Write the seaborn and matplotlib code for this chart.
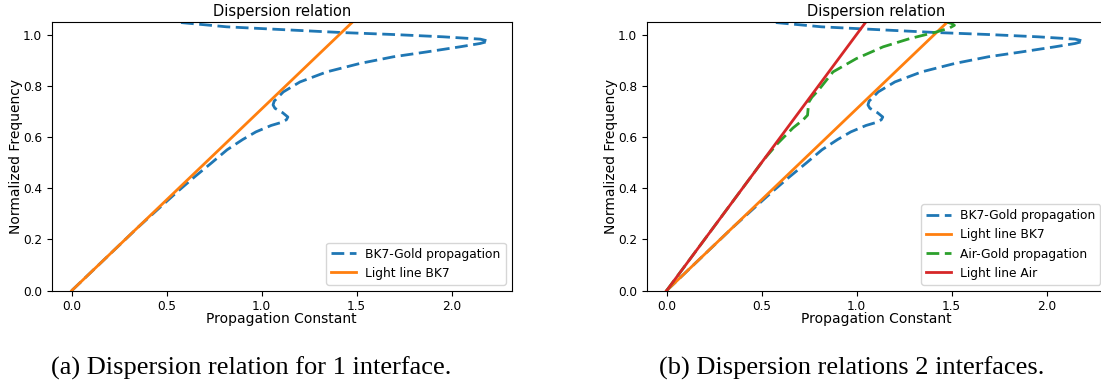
import matplotlib
matplotlib.use("Agg")
import matplotlib.pyplot as plt
import seaborn as sns
import numpy as np

# ---- data ----
bk7_gold_x = [0.0, 0.12, 0.24, 0.353, 0.472, 0.562, 0.648, 0.738, 0.818, 0.90, 0.97, 1.05,
              1.10, 1.13, 1.138, 1.11, 1.07, 1.060, 1.066, 1.09, 1.114, 1.202, 1.342, 1.517,
              1.693, 1.868, 2.044, 2.15, 2.195, 2.15, 1.956, 1.693, 1.412, 1.166, 0.816,
              0.570, 0.50]
bk7_gold_y = [0.0, 0.085, 0.170, 0.250, 0.330, 0.390, 0.445, 0.500, 0.550, 0.590, 0.620, 0.645,
              0.656, 0.667, 0.678, 0.695, 0.712, 0.725, 0.740, 0.758, 0.776, 0.815, 0.854, 0.887,
              0.913, 0.932, 0.952, 0.965, 0.974, 0.982, 0.991, 1.000, 1.008, 1.017, 1.030,
              1.047, 1.060]

air_gold_x = [0.0, 0.2, 0.4, 0.51, 0.585, 0.665, 0.72, 0.742, 0.745, 0.748, 0.765, 0.80,
              0.876, 0.999, 1.140, 1.280, 1.421, 1.491, 1.515, 1.50, 1.473, 1.385]
air_gold_y = [0.0, 0.2, 0.4, 0.51, 0.575, 0.635, 0.668, 0.685, 0.71, 0.735, 0.755, 0.783,
              0.854, 0.906, 0.952, 0.984, 1.010, 1.026, 1.036, 1.043, 1.049, 1.056]

light_bk7_x = [0.0, 1.48]
light_bk7_y = [0.0, 1.05]
light_air_x = [0.0, 1.05]
light_air_y = [0.0, 1.05]

title = "Dispersion relation"
xlabel = "Propagation Constant"
ylabel = "Normalized Frequency"
captions = ["(a) Dispersion relation for 1 interface.",
            "(b) Dispersion relations 2 interfaces."]

C_BLUE, C_ORANGE, C_GREEN, C_RED = "#1f77b4", "#ff7f0e", "#2ca02c", "#d62728"
DASH = (0, (4.6, 2.0))
LW = 2.0

fig = plt.figure(figsize=(11.01, 3.85), dpi=100)
W, H = 1101, 385
ax_w, ax_h = 460 / W, 269 / H
bottom = (H - 290.7) / H
axL = fig.add_axes([51.7 / W, bottom, ax_w, ax_h])
axR = fig.add_axes([646.6 / W, bottom, ax_w, ax_h])


def style(ax):
    ax.set_ylim(0, 1.05)
    ax.set_title(title, fontsize=10.5, pad=4)
    ax.set_xlabel(xlabel, fontsize=10, labelpad=-1)
    ax.set_ylabel(ylabel, fontsize=10, labelpad=0)
    ax.tick_params(labelsize=8.7)
    ax.legend(loc="lower right", fontsize=8.8)


sns.lineplot(x=bk7_gold_x, y=bk7_gold_y, sort=False, estimator=None, ax=axL,
             color=C_BLUE, lw=LW, linestyle=DASH, label="BK7-Gold propagation")
sns.lineplot(x=light_bk7_x, y=light_bk7_y, sort=False, estimator=None, ax=axL,
             color=C_ORANGE, lw=LW, label="Light line BK7")
style(axL)

sns.lineplot(x=bk7_gold_x, y=bk7_gold_y, sort=False, estimator=None, ax=axR,
             color=C_BLUE, lw=LW, linestyle=DASH, label="BK7-Gold propagation")
sns.lineplot(x=light_bk7_x, y=light_bk7_y, sort=False, estimator=None, ax=axR,
             color=C_ORANGE, lw=LW, label="Light line BK7")
sns.lineplot(x=air_gold_x, y=air_gold_y, sort=False, estimator=None, ax=axR,
             color=C_GREEN, lw=LW, linestyle=DASH, label="Air-Gold propagation")
sns.lineplot(x=light_air_x, y=light_air_y, sort=False, estimator=None, ax=axR,
             color=C_RED, lw=LW, label="Light line Air")
style(axR)

for ax in (axL, axR):
    ax.set_xlim(-0.105, 2.316)

fig.text(250.7 / W, 10 / H, captions[0], ha="center", va="baseline",
         family="Liberation Serif", fontsize=19)
fig.text(851.7 / W, 10 / H, captions[1], ha="center", va="baseline",
         family="Liberation Serif", fontsize=19)

fig.savefig("out.png", dpi=100)
